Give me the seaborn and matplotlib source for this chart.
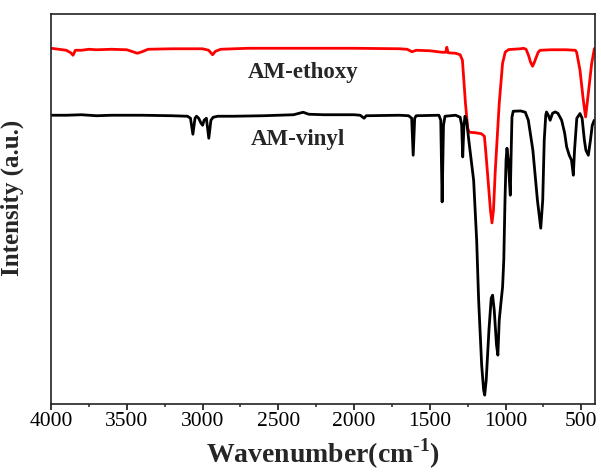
import matplotlib
matplotlib.use("Agg")
import matplotlib.pyplot as plt
from matplotlib.ticker import MultipleLocator
import pandas as pd
import seaborn as sns

# wavenumber (cm-1) / intensity (a.u.)
ethoxy_wn = [4000, 3950, 3900, 3870, 3855, 3840, 3800, 3750, 3700, 3600, 3500, 3460,
             3430, 3400, 3360, 3200, 3000, 2960, 2934, 2915, 2880, 2700, 2500, 2300,
             2000, 1700, 1650, 1618, 1590, 1500, 1420, 1395, 1388, 1380, 1330, 1300,
             1285, 1265, 1250, 1240, 1200, 1160, 1140, 1130, 1112, 1100, 1090, 1080,
             1068, 1042, 1020, 1002, 980, 900, 882, 865, 849, 835, 822, 810, 801, 785,
             772, 700, 600, 540, 531, 509, 487, 472, 454, 432, 414]
ethoxy_int = [356, 355, 354, 351.5, 349, 354, 354, 355, 354.5, 355, 354.5, 352.5,
              351, 352.5, 355, 355.5, 355.5, 354, 349.5, 353, 355, 356, 356, 356,
              356, 355.5, 355, 352.5, 354, 353.5, 352, 352, 357, 351.5, 351, 349.5,
              344, 301, 276, 272, 271.5, 270.5, 268, 251, 217, 194, 181.3, 194,
              234, 301, 341, 352.3, 354.7, 355.5, 356, 355, 349, 342, 338, 342, 345.7, 352,
              354, 354.5, 354.5, 354, 352, 334, 304, 287.3, 311, 340.7, 355.7]

vinyl_wn = [4000, 3900, 3800, 3700, 3600, 3400, 3200, 3100, 3080, 3064, 3050, 3040,
            3026, 3010, 3000, 2990, 2975, 2959, 2945, 2930, 2900, 2800, 2600, 2400,
            2336, 2300, 2200, 2000, 1960, 1934, 1920, 1700, 1640, 1620, 1610, 1600,
            1590, 1440, 1428, 1419, 1410, 1400, 1330, 1300, 1290, 1283, 1275, 1268,
            1258, 1243, 1211, 1191, 1178, 1158, 1145, 1138, 1128, 1110, 1095, 1086,
            1075, 1060, 1051, 1042, 1029, 1020, 1012, 1004, 997, 991, 982, 975, 969,
            963, 958, 950, 900, 870, 850, 820, 790, 768, 755, 745, 735, 730, 718, 706,
            690, 673, 655, 630, 610, 597, 580, 574, 565, 553, 545, 530, 509, 495, 480,
            470, 454, 440, 428, 415]
vinyl_int = [289, 289, 289.5, 288.5, 289, 289, 288.5, 288, 286, 270, 286, 288,
             286, 281, 279, 284, 286, 266, 284, 287, 288, 288, 288.5, 289.5,
             292, 290, 289.5, 289.5, 289, 286, 288.5, 289, 288.5, 286, 249, 286,
             288.5, 289, 284, 202.3, 279, 288, 289, 287, 279, 247.3, 279, 288,
             284, 264, 224, 164, 104, 39, 14, 9, 24, 74, 106, 109,
             94, 59, 49, 84, 104, 117, 144, 204, 244, 256, 244, 224, 209,
             254, 287, 293, 293.3, 292, 284, 254, 204, 176, 204, 264, 289, 292.3, 289, 284,
             291, 292.3, 291, 284, 271, 257.3, 249, 247, 244, 229, 254, 286, 290.7, 286, 264,
             254, 249, 264, 279, 284]

labels = ["AM-ethoxy", "AM-vinyl"]
colors = ["#ff0000", "#000000"]

df = pd.concat([
    pd.DataFrame({"wn": ethoxy_wn, "intensity": ethoxy_int, "sample": labels[0]}),
    pd.DataFrame({"wn": vinyl_wn, "intensity": vinyl_int, "sample": labels[1]}),
])

sns.set_style("ticks")
plt.rcParams["font.family"] = ["Liberation Serif", "DejaVu Serif"]
plt.rcParams["mathtext.fontset"] = "custom"
plt.rcParams["mathtext.rm"] = "Liberation Serif"
plt.rcParams["mathtext.bf"] = "Liberation Serif:bold"

fig = plt.figure(figsize=(6.01, 4.76), dpi=100)
ax = fig.add_axes([0.085, 0.151, 0.905, 0.819])

sns.lineplot(data=df, x="wn", y="intensity", hue="sample", palette=colors,
             linewidth=2.0, legend=False, ax=ax, estimator=None)

ax.set_xlim(4000, 410)
ax.set_ylim(0, 390)
ax.xaxis.set_major_locator(MultipleLocator(500))
ax.xaxis.set_minor_locator(MultipleLocator(250))
ax.tick_params(axis="x", which="major", direction="out", length=4, width=1.1,
               labelsize=15.5, pad=2, colors="black")
ax.tick_params(axis="x", which="minor", direction="out", length=2.5, width=1.1)
ax.set_yticks([])
for s in ax.spines.values():
    s.set_visible(True)
    s.set_linewidth(1.2)
    s.set_color("#222222")

ax.set_xlabel(r"Wavenumber(cm$^{\mathbf{\text{-}1}}$)", fontsize=20, fontweight="bold",
              labelpad=4)
ax.set_ylabel("Intensity (a.u.)", fontsize=18, fontweight="bold")
ax.yaxis.set_label_coords(-0.05, 0.53)

ax.text(2339, 332, labels[0], fontsize=16.5, fontweight="bold", ha="center", va="center")
ax.text(2368, 265, labels[1], fontsize=16.5, fontweight="bold", ha="center", va="center")

fig.savefig("out.png", dpi=100)
